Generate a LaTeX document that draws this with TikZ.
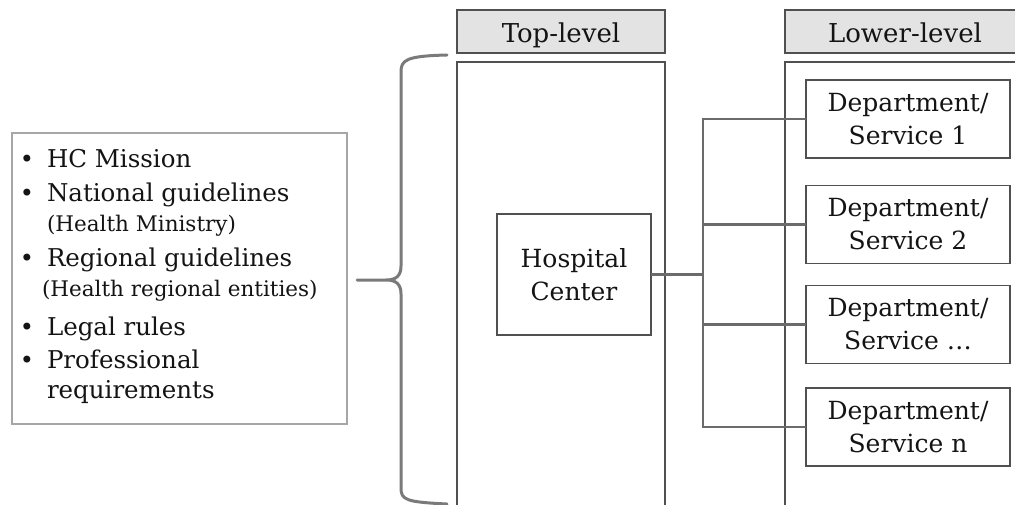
\documentclass[tikz,border=0pt]{standalone}
\usepackage{fontspec}
\setmainfont{DejaVu Serif}
\definecolor{boxline}{HTML}{505050}
\definecolor{headfill}{HTML}{E3E3E3}
\definecolor{linkline}{HTML}{6B6B6B}
\definecolor{braceline}{HTML}{7A7A7A}
\definecolor{listline}{HTML}{A6A6A6}
\definecolor{ink}{HTML}{141414}
\begin{document}
\begin{tikzpicture}[x=1pt,y=-1pt,
  every node/.style={inner sep=0pt, outer sep=0pt, text=ink},
  frame/.style={draw=boxline, line width=1.8pt, rectangle},
  header/.style={frame, fill=headfill, font=\fontsize{26}{30}\selectfont,
    text height=23pt, text depth=0pt},
  unit/.style={frame, fill=white, align=center, font=\fontsize{25}{33}\selectfont},
  link/.style={draw=linkline, line width=2.4pt},
  listtext/.style={anchor=base west, font=\fontsize{24.5}{33}\selectfont},
  subtext/.style={anchor=base west, font=\fontsize{21.5}{28}\selectfont},
  dot/.style={anchor=base, font=\fontsize{24}{28}\selectfont}]
\clip (0,0) rectangle (1015,505);
\fill[white] (0,0) rectangle (1015,505);

% list of sources
\node[draw=listline, line width=1.3pt, minimum width=335pt, minimum height=291pt]
  (list) at (179.5,278.5) {};
\foreach \y/\n in {168/b1, 202/b2, 267/b3, 335/b4, 368/b5}
  \node[dot] (\n) at (27,\y) {\textbullet};
\node[listtext] (l1) at (47,168) {HC Mission};
\node[listtext] (l2) at (47,202) {National guidelines};
\node[subtext]  (l3) at (47,232) {(Health Ministry)};
\node[listtext] (l4) at (47,267) {Regional guidelines};
\node[subtext]  (l5) at (42,297) {(Health regional entities)};
\node[listtext] (l6) at (47,335) {Legal rules};
\node[listtext] (l7) at (47,368) {Professional};
\node[listtext] (l8) at (47,398) {requirements};

% curly brace
\coordinate (tip) at (357,280);
\draw[braceline, line width=3pt, line cap=round, line join=round]
  (447,55) .. controls (406,56) and (401,60) .. (401,72)
  -- (401,266) .. controls (401,276) and (396,280) .. (386,280) -- (tip)
  -- (386,280) .. controls (396,280) and (401,284) .. (401,294)
  -- (401,488) .. controls (401,500) and (406,502) .. (447,504);

% column headers
\node[header, minimum width=208pt, minimum height=43pt] (toph) at (561,31.5) {Top-level};
\node[header, minimum width=240pt, minimum height=43pt] (lowh) at (905,31.5) {Lower-level};

% column frames
\node[frame, minimum width=208pt, minimum height=460pt] (topc) at (561,292) {};
\node[frame, minimum width=240pt, minimum height=460pt] (lowc) at (905,292) {};

% units
\node[unit, minimum width=154pt, minimum height=121pt] (hc) at (574,274.5) {Hospital\\Center};
\node[unit, minimum width=204pt, minimum height=78pt] (d1) at (908,119) {Department/\\Service 1};
\node[unit, minimum width=204pt, minimum height=78pt] (d2) at (908,224.5) {Department/\\Service 2};
\node[unit, minimum width=204pt, minimum height=78pt] (d3) at (908,324.5) {Department/\\Service \dots};
\node[unit, minimum width=204pt, minimum height=78pt] (d4) at (908,427) {Department/\\Service n};

% connectors
\coordinate (trunk) at (703,0);
\draw[link] (hc.east) -- (hc.east -| trunk);
\draw[link] (d1.west) -- (d1.west -| trunk) -- (d4.west -| trunk) -- (d4.west);
\draw[link] (d2.west) -- (d2.west -| trunk);
\draw[link] (d3.west) -- (d3.west -| trunk);
\end{tikzpicture}
\end{document}
